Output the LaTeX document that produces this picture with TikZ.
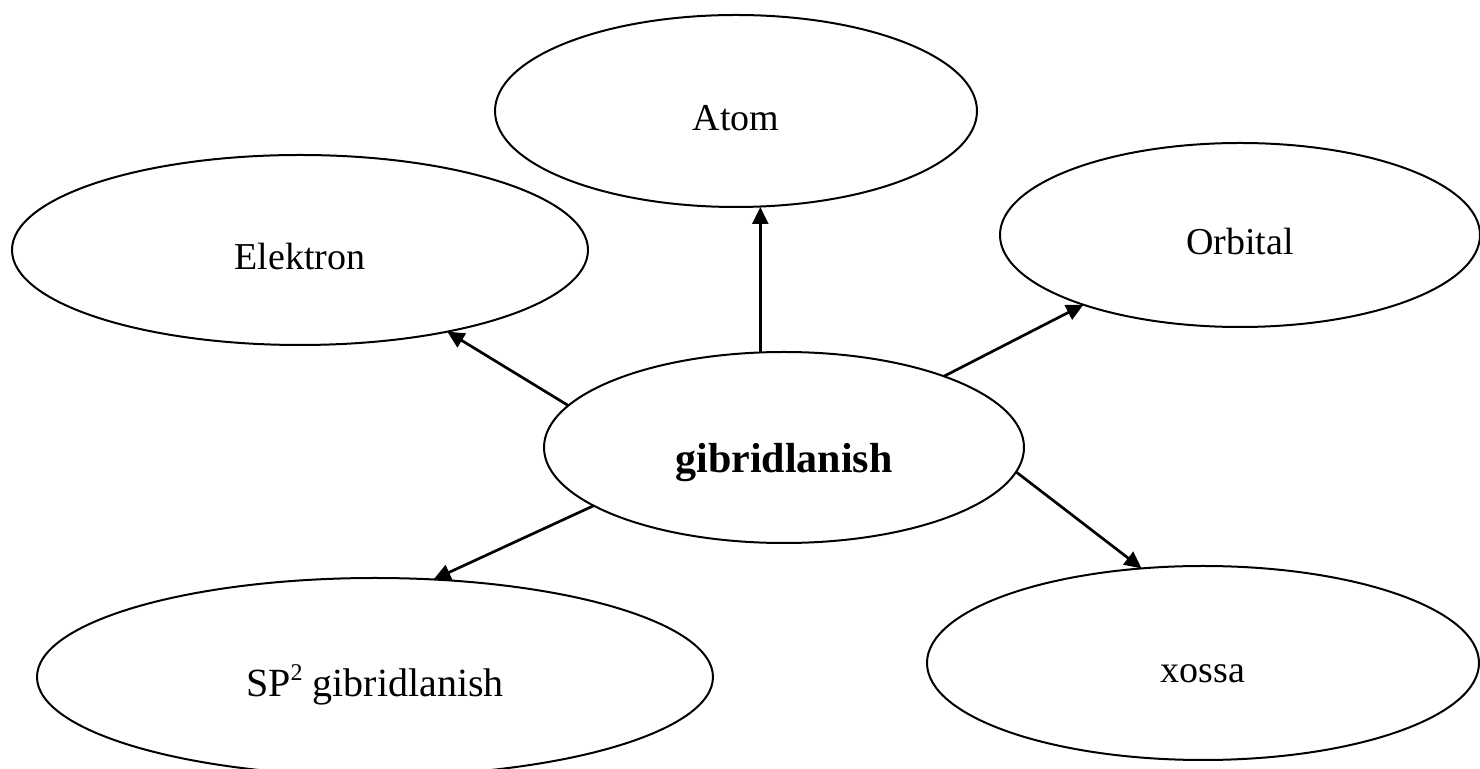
\documentclass[tikz,border=0pt]{standalone}
\usepackage{fontspec}
\setmainfont{Liberation Serif}
\usetikzlibrary{shapes.geometric,arrows.meta}

\begin{document}
\begin{tikzpicture}[x=0.5pt,y=-0.5pt,
    bubble/.style={draw,ellipse,line width=1pt,inner sep=0pt,outer sep=0pt,
        font=\fontsize{19}{19}\selectfont,text height=21pt,text depth=1pt},
    link/.style={line width=1.35pt,-{Triangle[length=8.5pt,width=8pt]}}]
    \useasboundingbox (0,0) rectangle (1480,769);
    \node[bubble,minimum width=241pt,minimum height=96pt] (atom) at (736,111) {Atom};
    \node[bubble,minimum width=288pt,minimum height=95pt] (elektron) at (300,250) {Elektron};
    \node[bubble,minimum width=240pt,minimum height=92pt] (orbital) at (1240,235) {Orbital};
    \node[bubble,minimum width=240pt,minimum height=95.5pt,font=\bfseries\fontsize{21}{21}\selectfont,
        text height=26pt,text depth=0.5pt] (gib) at (784,447.5) {gibridlanish};
    \node[bubble,minimum width=338pt,minimum height=99pt,font=\fontsize{20}{20}\selectfont]
        (sp) at (375,677) {SP\raisebox{0.42em}{\fontsize{12}{12}\selectfont 2} gibridlanish};
    \node[bubble,minimum width=276pt,minimum height=97pt] (xossa) at (1203,663) {xossa};
    % arrows out of the centre
    \draw[link] (gib.104) -- (gib.104 |- atom.south);
    \draw[link] (gib.169) -- (elektron.-29);
    \draw[link] (gib.24) -- (orbital.204.6);
    \draw[link] (gib.-6) -- (xossa.123);
    \draw[link] (gib.197) -- (sp.59);
\end{tikzpicture}
\end{document}
